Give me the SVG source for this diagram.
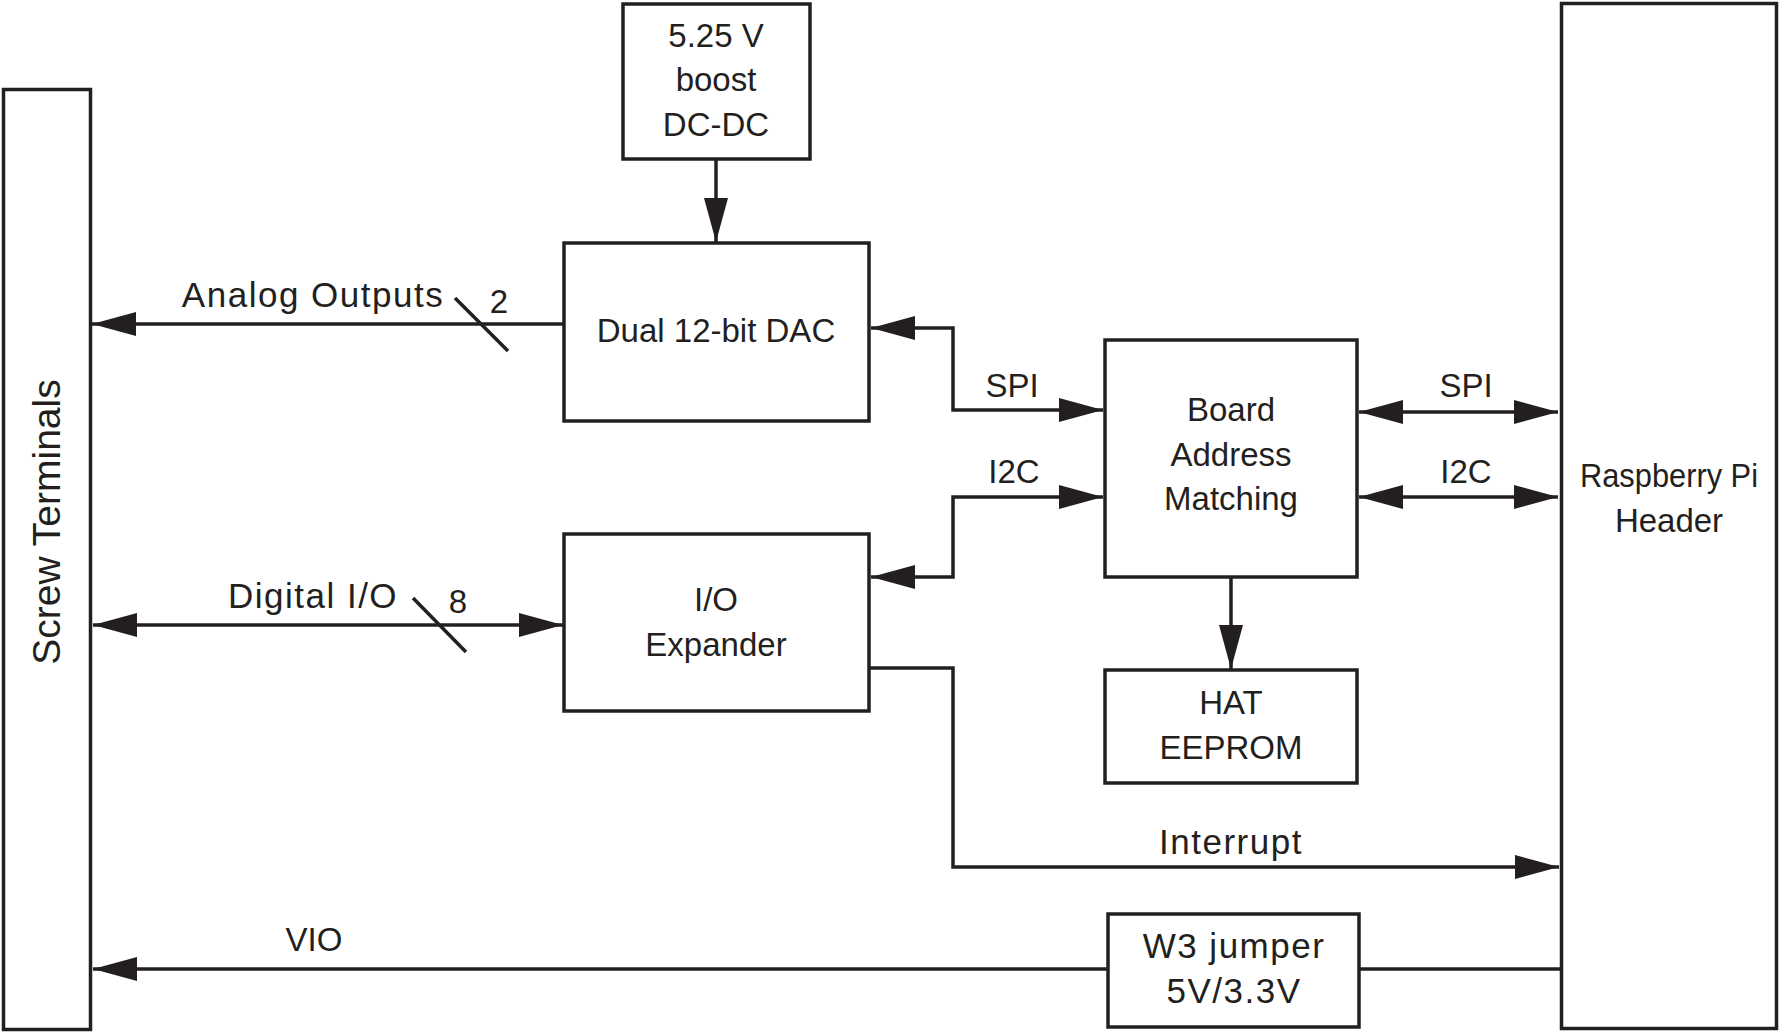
<svg xmlns="http://www.w3.org/2000/svg" width="1781" height="1034" viewBox="0 0 1781 1034">
<style>
.box{fill:#fff;stroke:#231f20;stroke-width:3.5}
.ln{fill:none;stroke:#231f20;stroke-width:3.5}
.t{font-family:"Liberation Sans",Arial,sans-serif;font-size:33px;fill:#231f20;text-anchor:middle}
.lbl{font-size:35px;letter-spacing:1.5px}
</style>
<defs>
<marker id="ah" markerUnits="userSpaceOnUse" markerWidth="44" markerHeight="24" refX="44" refY="12" orient="auto-start-reverse" viewBox="0 0 44 24">
<path d="M0,0 L44,12 L0,24 z" fill="#231f20"/>
</marker>
</defs>
<rect width="1781" height="1034" fill="#fff"/>
<g id="screw">
<rect class="box" x="3.5" y="89.5" width="87" height="940"/>
<text class="t" style="font-size:39px" transform="translate(60,522) rotate(-90)">Screw Terminals</text>
</g>
<g id="rpi">
<rect class="box" x="1561.5" y="3.5" width="215" height="1025"/>
<text class="t" x="1669" y="487" textLength="178" lengthAdjust="spacingAndGlyphs">Raspberry Pi</text>
<text class="t" x="1669" y="532">Header</text>
</g>
<g id="boost">
<rect class="box" x="623" y="4" width="187" height="155"/>
<text class="t" x="716" y="47">5.25 V</text>
<text class="t" x="716" y="91">boost</text>
<text class="t" x="716" y="136">DC-DC</text>
</g>
<g id="dac">
<rect class="box" x="564" y="243" width="305" height="178"/>
<text class="t" x="716" y="342">Dual 12-bit DAC</text>
</g>
<g id="ioexp">
<rect class="box" x="564" y="534" width="305" height="177"/>
<text class="t" x="716" y="611">I/O</text>
<text class="t" x="716" y="656">Expander</text>
</g>
<g id="board">
<rect class="box" x="1105" y="340" width="252" height="237"/>
<text class="t" x="1231" y="421">Board</text>
<text class="t" x="1231" y="466">Address</text>
<text class="t" x="1231" y="510">Matching</text>
</g>
<g id="hat">
<rect class="box" x="1105" y="670" width="252" height="113"/>
<text class="t" x="1231" y="714">HAT</text>
<text class="t" x="1231" y="759">EEPROM</text>
</g>
<g id="w3">
<rect class="box" x="1108" y="914" width="251" height="113"/>
<text class="t lbl" x="1234" y="958">W3 jumper</text>
<text class="t lbl" x="1234" y="1003">5V/3.3V</text>
</g>
<g id="connectors">
<path class="ln" d="M716,160 V242" marker-end="url(#ah)"/>
<path class="ln" d="M563,324 H92" marker-end="url(#ah)"/>
<line class="ln" x1="455" y1="298" x2="508" y2="351"/>
<path class="ln" d="M1103,410 H953 V328 H871" marker-start="url(#ah)" marker-end="url(#ah)"/>
<path class="ln" d="M1103,497 H953 V577 H871" marker-start="url(#ah)" marker-end="url(#ah)"/>
<path class="ln" d="M1359,412 H1558" marker-start="url(#ah)" marker-end="url(#ah)"/>
<path class="ln" d="M1359,497 H1558" marker-start="url(#ah)" marker-end="url(#ah)"/>
<path class="ln" d="M1231,578 V669" marker-end="url(#ah)"/>
<path class="ln" d="M870,668 H953 V867 H1559" marker-end="url(#ah)"/>
<path class="ln" d="M563,625 H93" marker-start="url(#ah)" marker-end="url(#ah)"/>
<line class="ln" x1="413" y1="598" x2="466" y2="652"/>
<path class="ln" d="M1560,969 H1360"/>
<path class="ln" d="M1107,969 H93" marker-end="url(#ah)"/>
<text class="t lbl" x="313" y="307">Analog Outputs</text>
<text class="t" x="499" y="313">2</text>
<text class="t lbl" x="313" y="608">Digital I/O</text>
<text class="t" x="458" y="613">8</text>
<text class="t" x="314" y="951">VIO</text>
<text class="t" x="1012" y="397">SPI</text>
<text class="t" x="1014" y="483">I2C</text>
<text class="t" x="1466" y="397">SPI</text>
<text class="t" x="1466" y="483">I2C</text>
<text class="t lbl" x="1231" y="854">Interrupt</text>
</g>
</svg>
